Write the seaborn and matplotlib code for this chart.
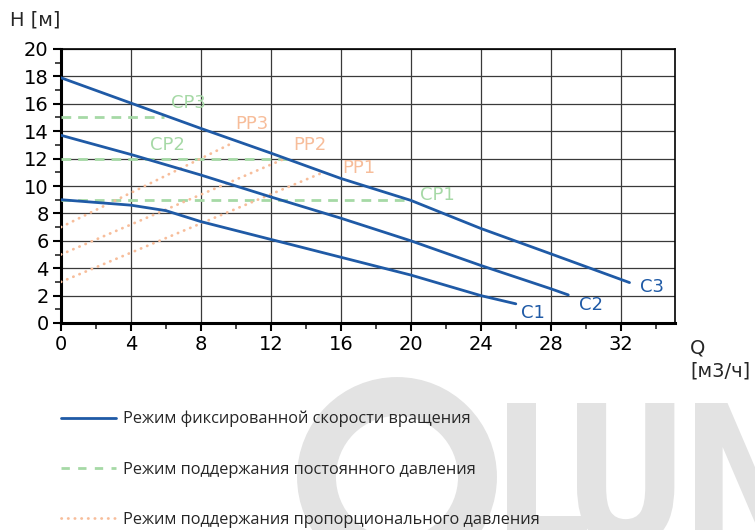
import numpy as np
import pandas as pd
import seaborn as sns
import matplotlib.pyplot as plt
from matplotlib.lines import Line2D
from matplotlib.patches import Circle, PathPatch
from matplotlib.textpath import TextPath
from matplotlib.font_manager import FontProperties
from matplotlib.transforms import Affine2D, IdentityTransform

# fixed speed curves C1..C3 (Q in m3/h, H in m)
q_c1 = [0, 4, 6, 8, 12, 16, 20, 24, 26]
h_c1 = [9.0, 8.6, 8.2, 7.4, 6.1, 4.8, 3.5, 2.0, 1.4]
q_c2 = [0, 4, 8, 12, 16, 20, 24, 28, 29]
h_c2 = [13.7, 12.3, 10.8, 9.2, 7.65, 6.0, 4.2, 2.5, 2.05]
q_c3 = [0, 4, 8, 12, 16, 20, 24, 28, 32.5]
h_c3 = [17.9, 16.05, 14.2, 12.4, 10.55, 8.95, 6.9, 5.05, 2.95]

# constant pressure CP1..CP3
cp_names = ['CP1', 'CP2', 'CP3']
cp_level = [9.0, 12.0, 15.0]
cp_end_q = [20.0, 12.9, 5.9]

# proportional pressure PP1..PP3
pp_names = ['PP1', 'PP2', 'PP3']
pp_start_h = [3.0, 5.0, 7.0]
pp_end_q = [15.0, 12.8, 9.9]
pp_end_h = [11.0, 12.0, 13.2]

x_ticks = [0, 4, 8, 12, 16, 20, 24, 28, 32]
y_ticks = [0, 2, 4, 6, 8, 10, 12, 14, 16, 18, 20]

legend_labels = ['Режим фиксированной скорости вращения',
                 'Режим поддержания постоянного давления',
                 'Режим поддержания пропорционального давления']

BLUE = '#1f5aa6'
GREEN = '#a6d9a6'
ORANGE = '#f7bd9a'
WM = '#e3e3e3'
CP_DASH = (0, (3.5, 2.5))
PP_DOT = (0, (0.1, 2.3))

rows = []
for name, qs, hs in [('C1', q_c1, h_c1), ('C2', q_c2, h_c2), ('C3', q_c3, h_c3)]:
    for q, h in zip(qs, hs):
        rows.append({'curve': name, 'mode': 'C', 'q': q, 'h': h})
for name, lvl, qe in zip(cp_names, cp_level, cp_end_q):
    rows.append({'curve': name, 'mode': 'CP', 'q': 0, 'h': lvl})
    rows.append({'curve': name, 'mode': 'CP', 'q': qe, 'h': lvl})
for name, hs, qe, he in zip(pp_names, pp_start_h, pp_end_q, pp_end_h):
    rows.append({'curve': name, 'mode': 'PP', 'q': 0, 'h': hs})
    rows.append({'curve': name, 'mode': 'PP', 'q': qe, 'h': he})
df = pd.DataFrame(rows)

sns.set_style('white')
plt.rcParams['font.family'] = ['DejaVu Sans']

fig = plt.figure(figsize=(7.55, 5.3), dpi=100)
ax = fig.add_axes([61 / 755, 1 - 323 / 530, 614 / 755, 274 / 530])

sns.lineplot(data=df[df['mode'] == 'CP'], x='q', y='h', units='curve', estimator=None,
             color=GREEN, lw=2, linestyle=CP_DASH, ax=ax, zorder=3)
sns.lineplot(data=df[df['mode'] == 'PP'], x='q', y='h', units='curve', estimator=None,
             color=ORANGE, lw=2, linestyle=PP_DOT, dash_capstyle='round',
             ax=ax, zorder=3)
sns.lineplot(data=df[df['mode'] == 'C'], x='q', y='h', units='curve', estimator=None,
             sort=False, color=BLUE, lw=2, ax=ax, zorder=4)

ax.set_xlim(0, 35.1)
ax.set_ylim(0, 20)
ax.set_xticks(x_ticks)
ax.set_yticks(y_ticks)
ax.set_xticks(np.arange(0, 35, 2), minor=True)
ax.set_yticks(np.arange(0, 21, 1), minor=True)
ax.grid(True, which='major', color='#3a3a3a', lw=0.9)
ax.tick_params(which='major', direction='out', length=6, width=1.5, labelsize=14,
               colors='black', pad=3, bottom=True, left=True)
ax.tick_params(which='minor', direction='out', length=4, width=1.2,
               bottom=True, left=True)
ax.set_xlabel('')
ax.set_ylabel('')
for s in ax.spines.values():
    s.set_color('black')
    s.set_linewidth(1.2)
ax.spines['left'].set_linewidth(2.2)
ax.spines['bottom'].set_linewidth(2.2)

# curve labels
lab = dict(fontsize=13, ha='center', va='center', zorder=5)
for name, qs, hs, dx, dy in [('C1', q_c1, h_c1, 1.0, -0.7),
                             ('C2', q_c2, h_c2, 1.3, -0.75),
                             ('C3', q_c3, h_c3, 1.3, -0.35)]:
    ax.text(qs[-1] + dx, hs[-1] + dy, name, color=BLUE, **lab)
cp_lab_pos = [(21.5, 9.35), (6.1, 13.0), (7.3, 16.05)]
for name, (tx, ty) in zip(cp_names, cp_lab_pos):
    ax.text(tx, ty, name, color=GREEN, **lab)
pp_lab_pos = [(17.0, 11.3), (14.2, 13.0), (10.9, 14.5)]
for name, (tx, ty) in zip(pp_names, pp_lab_pos):
    ax.text(tx, ty, name, color=ORANGE, **lab)

fig.text(10 / 755, 1 - 20 / 530, 'H [м]', fontsize=14, va='center', ha='left')
fig.text(690 / 755, 1 - 348 / 530, 'Q', fontsize=14, va='center', ha='left')
fig.text(690 / 755, 1 - 371 / 530, '[м3/ч]', fontsize=14, va='center', ha='left')

# watermark: ring + tall "LUN" letters (pixel coords, origin bottom-left)
fig.add_artist(Circle((3.97, 5.3 - 4.77), 0.805, transform=fig.dpi_scale_trans,
                      fill=False, lw=28, color=WM, zorder=0))
wm_font = FontProperties(family='DejaVu Sans', weight='bold')
for letter, left in [('L', 507), ('U', 577), ('N', 695)]:
    tp = TextPath((0, 0), letter, size=100, prop=wm_font)
    ext = tp.get_extents()
    tr = (Affine2D().translate(-ext.x0, -ext.y1).scale(1.55, 1.92)
          .translate(left, 530 - 403))
    fig.add_artist(PathPatch(tr.transform_path(tp), facecolor=WM, edgecolor='none',
                             transform=IdentityTransform(), zorder=0))

handles = [Line2D([], [], color=BLUE, lw=2),
           Line2D([], [], color=GREEN, lw=2, linestyle=(0, (3, 3))),
           Line2D([], [], color=ORANGE, lw=2, linestyle=PP_DOT,
                  dash_capstyle='round')]
fig.legend(handles, legend_labels, loc='upper left',
           bbox_to_anchor=(46 / 755, 1 - 396 / 530), frameon=False,
           prop={'family': 'Open Sans', 'size': 11.8}, handlelength=3.4,
           handletextpad=0.4, labelspacing=2.1)

fig.savefig('out.png', dpi=100)
